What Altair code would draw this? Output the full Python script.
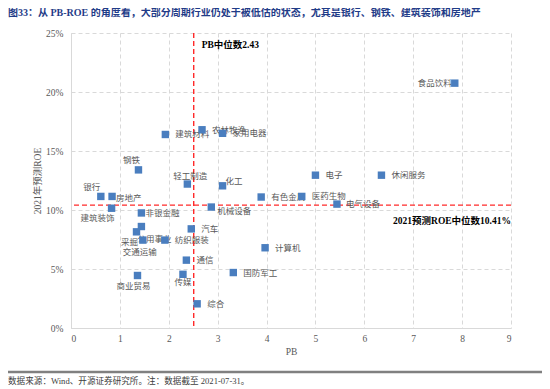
import altair as alt
import pandas as pd

# ---- data ----
industries = ["食品饮料", "建筑材料", "农林牧渔", "家用电器", "钢铁", "轻工制造", "化工",
              "银行", "房地产", "建筑装饰", "非银金融", "机械设备", "有色金属", "医药生物",
              "电子", "休闲服务", "电气设备", "汽车", "公用事业", "采掘", "交通运输",
              "纺织服装", "计算机", "通信", "国防军工", "商业贸易", "传媒", "综合"]
pb = [7.85, 1.93, 2.68, 3.10, 1.38, 2.38, 3.10,
      0.61, 0.84, 0.83, 1.44, 2.87, 3.89, 4.72,
      5.00, 6.35, 5.44, 2.46, 1.44, 1.34, 1.47,
      1.92, 3.97, 2.36, 3.32, 1.36, 2.29, 2.58]
roe_2021 = [20.75, 16.4, 16.8, 16.5, 13.4, 12.2, 12.05,
            11.15, 11.15, 10.15, 9.75, 10.25, 11.1, 11.15,
            12.95, 12.95, 10.5, 8.4, 8.6, 8.15, 7.45,
            7.45, 6.8, 5.75, 4.7, 4.45, 4.55, 2.05]

pb_median_line = 2.51          # where the dashed line is drawn
roe_median = 10.41
pb_median_text = "PB中位数2.43"
roe_median_text = "2021预测ROE中位数10.41%"

x_ticks = list(range(0, 10))
y_ticks = [0, 5, 10, 15, 20, 25]

title_text = "图33：从 PB-ROE 的角度看，大部分周期行业仍处于被低估的状态，尤其是银行、钢铁、建筑装饰和房地产"
source_text = "数据来源：Wind、开源证券研究所。注：数据截至 2021-07-31。"

# ---- label placement (style only): align, dx, dy in pixels ----
label_layout = {
    "食品饮料": ("right", -3, 0),
    "建筑材料": ("left", 10, 0), "农林牧渔": ("left", 10, 0), "家用电器": ("left", 10, 0),
    "钢铁": ("center", -7, -10), "轻工制造": ("center", 3, -8), "化工": ("left", 3, -5),
    "银行": ("center", -9, -9), "房地产": ("left", 4, 2), "建筑装饰": ("center", -14, 10),
    "非银金融": ("left", 4, 0), "机械设备": ("left", 6, 4), "有色金属": ("left", 10, 0),
    "医药生物": ("left", 10, 0), "电子": ("left", 10, 0), "休闲服务": ("left", 10, 0),
    "电气设备": ("left", 9, 0), "汽车": ("left", 10, 0), "公用事业": ("center", 13, 12),
    "采掘": ("center", -7, 10), "交通运输": ("center", -3, 12), "纺织服装": ("left", 10, 0),
    "计算机": ("left", 10, 0), "通信": ("left", 10, 0), "国防军工": ("left", 10, 0),
    "商业贸易": ("center", -4, 11), "传媒": ("center", 0, 8), "综合": ("left", 10, 0),
}

df = pd.DataFrame({"industry": industries, "pb": pb, "roe": roe_2021})

GREY = "#595959"
SERIF = "Liberation Serif, Noto Sans CJK SC"
CJK = "Noto Sans CJK SC"

x_scale = alt.Scale(domain=[0, 9], nice=False, zero=True)
y_scale = alt.Scale(domain=[0, 25], nice=False)

x_axis = alt.Axis(values=x_ticks, grid=True, gridDash=[4, 3], gridColor="#d9d9d9",
                  domainColor="#d9d9d9", ticks=False, labelPadding=5,
                  labelFont="Liberation Serif", labelFontSize=9.5, labelColor=GREY,
                  title="PB", titleFont="Liberation Serif", titleFontSize=9.5,
                  titleFontWeight="normal", titleColor=GREY, titlePadding=4)
y_axis = alt.Axis(values=y_ticks, grid=True, gridDash=[4, 3], gridColor="#d9d9d9",
                  domainColor="#d9d9d9", ticks=False, labelPadding=8,
                  labelExpr="datum.value + '%'",
                  labelFont="Liberation Serif", labelFontSize=9.5, labelColor=GREY,
                  title="2021年预测ROE", titleFont=SERIF, titleFontSize=9.5,
                  titleFontWeight="normal", titleColor=GREY, titlePadding=3)

base = alt.Chart(df)

points = base.mark_point(shape="square", filled=True, size=55, color="#4a7ebf", opacity=1).encode(
    x=alt.X("pb:Q", scale=x_scale, axis=x_axis),
    y=alt.Y("roe:Q", scale=y_scale, axis=y_axis),
)

# one text layer per placement style
groups = {}
for name, spec in label_layout.items():
    groups.setdefault(spec, []).append(name)

label_layers = []
for (al, dx, dy), names in groups.items():
    label_layers.append(
        base.transform_filter(alt.FieldOneOfPredicate(field="industry", oneOf=names)).mark_text(
            align=al, baseline="middle", dx=dx, dy=dy, font=CJK, fontSize=8.5, color=GREY
        ).encode(
            x=alt.X("pb:Q", scale=x_scale),
            y=alt.Y("roe:Q", scale=y_scale),
            text="industry:N",
        )
    )
labels = alt.layer(*label_layers)

vline = alt.Chart(pd.DataFrame({"v": [pb_median_line]})).mark_rule(
    color="#ff2a2a", strokeDash=[5, 3], strokeWidth=1.4).encode(x=alt.X("v:Q", scale=x_scale))
hline = alt.Chart(pd.DataFrame({"v": [roe_median]})).mark_rule(
    color="#ff2a2a", strokeDash=[5, 3], strokeWidth=1.4).encode(y=alt.Y("v:Q", scale=y_scale))

pb_note = alt.Chart(pd.DataFrame({"x": [pb_median_line], "y": [24.0], "t": [pb_median_text]})).mark_text(
    align="left", baseline="middle", dx=8, font=SERIF, fontSize=9.5, fontWeight="bold", color="#000000"
).encode(x=alt.X("x:Q", scale=x_scale), y=alt.Y("y:Q", scale=y_scale), text="t:N")

roe_note = alt.Chart(pd.DataFrame({"x": [9], "y": [roe_median], "t": [roe_median_text]})).mark_text(
    align="right", baseline="middle", dy=16, font=SERIF, fontSize=9.5, fontWeight="bold", color="#000000"
).encode(x=alt.X("x:Q", scale=x_scale), y=alt.Y("y:Q", scale=y_scale), text="t:N")

title = alt.Chart(pd.DataFrame({"t": [title_text]})).mark_text(
    align="left", baseline="top", font=SERIF, fontSize=10, fontWeight="bold", color="#1f3c88"
).encode(text="t:N", x=alt.value(-63), y=alt.value(-25))

footer_rule = alt.Chart(pd.DataFrame({"a": [0]})).mark_rule(
    color="#808080", strokeWidth=2.5).encode(x=alt.value(-63), x2=alt.value(471), y=alt.value(339))

footer = alt.Chart(pd.DataFrame({"t": [source_text]})).mark_text(
    align="left", baseline="middle", font=SERIF, fontSize=8.6, color="#404040"
).encode(text="t:N", x=alt.value(-63), y=alt.value(348))

chart = alt.layer(
    vline, hline, labels, points, pb_note, roe_note, title, footer_rule, footer
).properties(
    width=440, height=295,
    padding={"left": 63, "top": 25, "right": 31, "bottom": 61},
    autosize=alt.AutoSizeParams(type="none"),
).configure_view(stroke=None)

chart.save("out.html", embed_options={"renderer": "svg", "actions": False})
